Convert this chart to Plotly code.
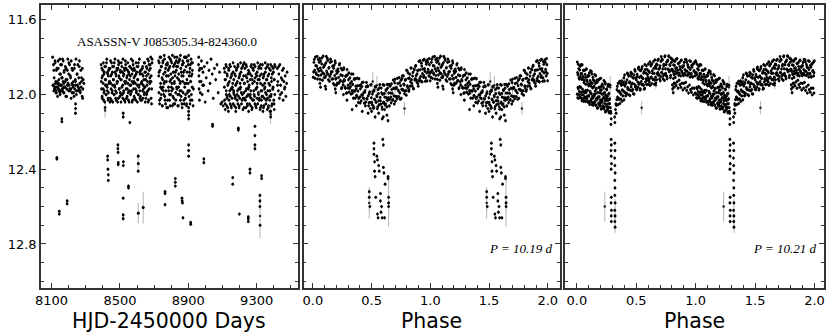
import plotly.graph_objects as go

# ---- light curve (HJD-2450000, V mag) ----
season_a = [
    (8106, 11.80), (8110, 11.95), (8113, 11.87), (8117, 11.97), (8121, 11.83), (8124, 11.93),
    (8128, 11.99), (8131, 11.86), (8135, 11.96), (8138, 11.82), (8141, 11.94), (8144, 11.98),
    (8147, 11.89), (8150, 12.00), (8152, 11.84), (8155, 11.95), (8158, 11.91), (8161, 11.97),
    (8164, 11.81), (8167, 11.93), (8170, 11.99), (8173, 11.88), (8177, 11.96), (8180, 11.85),
    (8184, 11.92), (8188, 12.01), (8192, 11.87), (8196, 11.94), (8201, 11.83), (8205, 11.97),
    (8210, 11.90), (8214, 12.02), (8219, 11.86), (8224, 11.95), (8229, 11.99), (8234, 11.84),
    (8240, 11.93), (8245, 12.00), (8250, 11.89), (8256, 11.96), (8262, 11.85), (8268, 11.98),
    (8275, 11.91), (8282, 12.02), (8289, 11.94),
    (8119, 11.96), (8126, 11.98), (8133, 11.94), (8140, 11.97), (8149, 11.99), (8157, 11.95),
    (8163, 11.98), (8171, 11.96),
]
season_a2 = [
    (8108, 11.95), (8111, 11.84), (8113, 11.98), (8115, 11.91), (8119, 11.97), (8120, 11.82), (8123, 11.94), (8125, 11.99),
    (8128, 11.87), (8131, 11.96), (8133, 11.93), (8135, 12.01), (8139, 11.86), (8140, 11.97), (8143, 11.92), (8145, 11.95),
    (8148, 11.81), (8151, 11.98), (8153, 11.89), (8155, 11.95), (8159, 11.84), (8160, 11.98), (8163, 11.91), (8165, 11.97),
    (8168, 11.82), (8171, 11.94), (8173, 11.99), (8175, 11.87), (8179, 11.96), (8180, 11.93), (8183, 12.01), (8185, 11.86),
    (8188, 11.97), (8191, 11.92), (8193, 11.95), (8195, 11.81), (8199, 11.98), (8200, 11.89), (8203, 11.95), (8205, 11.84),
    (8208, 11.98), (8211, 11.91), (8213, 11.97), (8215, 11.82), (8219, 11.94), (8220, 11.99), (8223, 11.87), (8225, 11.96),
    (8228, 11.93), (8231, 12.01), (8233, 11.86), (8235, 11.97), (8239, 11.92), (8240, 11.95), (8243, 11.81), (8245, 11.98),
    (8248, 11.89), (8251, 11.95), (8253, 11.84), (8255, 11.98), (8259, 11.91), (8260, 11.97), (8263, 11.82), (8265, 11.94),
    (8268, 11.99), (8271, 11.87), (8273, 11.96), (8275, 11.93), (8279, 12.01), (8280, 11.86), (8283, 11.97), (8285, 11.92),
]
season_b = [
    (8390, 11.84), (8392, 11.97), (8395, 11.91), (8396, 12.01), (8400, 11.87), (8402, 11.94),
    (8405, 12.03), (8407, 11.89), (8408, 11.98), (8411, 11.85), (8415, 11.95), (8417, 11.92),
    (8420, 12.00), (8421, 11.83), (8425, 11.96), (8427, 11.88), (8430, 12.02), (8432, 11.90),
    (8433, 11.99), (8436, 11.86), (8440, 11.93), (8442, 12.04), (8445, 11.82), (8446, 11.94),
    (8450, 12.03), (8452, 11.89), (8455, 11.98), (8457, 11.85), (8458, 11.95), (8461, 11.92),
    (8465, 12.00), (8467, 11.83), (8470, 11.96), (8471, 11.88), (8475, 12.02), (8477, 11.90),
    (8480, 11.99), (8482, 11.86), (8483, 11.93), (8486, 12.04), (8490, 11.82), (8492, 11.84),
    (8495, 11.97), (8496, 11.91), (8500, 12.01), (8502, 11.87), (8505, 11.92), (8507, 12.00),
    (8508, 11.83), (8511, 11.96), (8515, 11.88), (8517, 12.02), (8520, 11.90), (8521, 11.99),
    (8525, 11.86), (8527, 11.93), (8530, 12.04), (8532, 11.82), (8533, 11.84), (8536, 11.97),
    (8540, 11.91), (8542, 12.01), (8545, 11.87), (8546, 11.94), (8550, 12.03), (8552, 11.89),
    (8555, 11.98), (8557, 11.85), (8558, 11.95), (8561, 11.90), (8565, 11.99), (8567, 11.86),
    (8570, 11.93), (8571, 12.04), (8575, 11.82), (8577, 11.84), (8580, 11.97), (8582, 11.91),
    (8583, 12.01), (8586, 11.87), (8590, 11.94), (8592, 12.03), (8595, 11.89), (8596, 11.98),
    (8600, 11.85), (8602, 11.95), (8605, 11.92), (8607, 12.00), (8608, 11.83), (8611, 11.96),
    (8615, 11.88), (8617, 12.02), (8620, 12.01), (8621, 11.87), (8625, 11.94), (8627, 12.03),
    (8630, 11.89), (8632, 11.98), (8633, 11.85), (8636, 11.95), (8640, 11.92), (8642, 12.00),
    (8645, 11.83), (8646, 11.96), (8650, 11.88), (8652, 12.02), (8655, 11.90), (8657, 11.99),
    (8658, 11.86), (8661, 11.93), (8665, 12.04), (8667, 11.82), (8670, 11.84), (8671, 11.97),
    (8675, 11.91), (8677, 11.84), (8680, 11.80), (8682, 11.93), (8685, 12.05), (8688, 11.81),
]
season_b2 = [
    (8391, 11.93), (8394, 11.86), (8396, 12.02), (8398, 11.90), (8402, 11.97), (8403, 11.83), (8406, 11.99), (8408, 11.88),
    (8411, 12.04), (8414, 11.92), (8416, 11.85), (8418, 12.00), (8422, 11.95), (8423, 11.81), (8426, 11.98), (8428, 11.89),
    (8431, 12.03), (8434, 11.87), (8436, 11.94), (8438, 11.93), (8442, 11.86), (8443, 12.02), (8446, 11.90), (8448, 11.97),
    (8451, 11.83), (8454, 11.99), (8456, 11.88), (8458, 12.04), (8462, 11.92), (8463, 11.85), (8466, 12.00), (8468, 11.95),
    (8471, 11.81), (8474, 11.98), (8476, 11.89), (8478, 12.03), (8482, 11.87), (8483, 11.94), (8486, 11.93), (8488, 11.86),
    (8491, 12.02), (8494, 11.90), (8496, 11.97), (8498, 11.83), (8502, 11.99), (8503, 11.88), (8506, 12.04), (8508, 11.92),
    (8511, 11.85), (8514, 12.00), (8516, 11.95), (8518, 11.81), (8522, 11.98), (8523, 11.89), (8526, 12.03), (8528, 11.87),
    (8531, 11.94), (8534, 11.93), (8536, 11.86), (8538, 12.02), (8542, 11.90), (8543, 11.97), (8546, 11.83), (8548, 11.99),
    (8551, 11.88), (8554, 12.04), (8556, 11.92), (8558, 11.85), (8562, 12.00), (8563, 11.95), (8566, 11.81), (8568, 11.98),
    (8571, 11.89), (8574, 12.03), (8576, 11.87), (8578, 11.94), (8582, 11.93), (8583, 11.86), (8586, 12.02), (8588, 11.90),
    (8591, 11.97), (8594, 11.83), (8596, 11.99), (8598, 11.88), (8602, 12.04), (8603, 11.92), (8606, 11.85), (8608, 12.00),
    (8611, 11.95), (8614, 11.81), (8616, 11.98), (8618, 11.89), (8622, 12.03), (8623, 11.87), (8626, 11.94), (8628, 11.93),
    (8631, 11.86), (8634, 12.02), (8636, 11.90), (8638, 11.97), (8642, 11.83), (8643, 11.99), (8646, 11.88), (8648, 12.04),
    (8651, 11.92), (8654, 11.85), (8656, 12.00), (8658, 11.95), (8662, 11.81), (8663, 11.98), (8666, 11.89), (8668, 12.03),
    (8671, 11.87), (8674, 11.94), (8676, 11.93), (8678, 11.86), (8682, 12.02), (8683, 11.90), (8686, 11.97), (8688, 11.83),
]
season_c = [
    (8726, 11.82), (8728, 11.99), (8729, 11.88), (8732, 12.05), (8734, 11.80), (8738, 11.94),
    (8739, 12.02), (8741, 11.85), (8744, 11.97), (8746, 11.91), (8749, 12.06), (8751, 11.83),
    (8752, 11.96), (8755, 11.89), (8757, 12.00), (8761, 11.81), (8762, 11.93), (8764, 12.03),
    (8767, 11.86), (8769, 11.98), (8772, 11.90), (8774, 12.07), (8775, 11.84), (8778, 11.84),
    (8780, 12.07), (8784, 11.90), (8785, 11.98), (8787, 11.86), (8790, 12.03), (8792, 11.93),
    (8795, 11.81), (8797, 12.00), (8798, 11.89), (8801, 11.96), (8803, 11.83), (8807, 12.06),
    (8808, 11.91), (8810, 11.97), (8813, 11.85), (8815, 12.02), (8818, 11.94), (8820, 11.80),
    (8821, 12.05), (8824, 11.88), (8826, 11.99), (8830, 11.82), (8831, 11.85), (8833, 11.97),
    (8836, 11.91), (8838, 12.06), (8841, 11.83), (8843, 11.96), (8844, 11.89), (8847, 12.00),
    (8849, 11.81), (8853, 11.93), (8854, 12.03), (8856, 11.86), (8859, 11.98), (8861, 11.90),
    (8864, 12.07), (8866, 11.84), (8867, 11.82), (8870, 11.99), (8872, 11.88), (8876, 12.05),
    (8877, 11.80), (8879, 11.94), (8882, 12.02), (8884, 12.02), (8887, 11.94), (8889, 11.80),
    (8890, 12.05), (8893, 11.88), (8895, 11.99), (8899, 11.82), (8900, 11.84), (8902, 12.07),
    (8905, 11.90), (8907, 11.98), (8910, 11.86), (8912, 12.03), (8913, 11.93), (8916, 11.81),
    (8918, 12.00), (8922, 11.89), (8923, 11.96), (8925, 11.83), (8928, 12.06), (8930, 11.97),
]
season_c2 = [
    (8727, 11.90), (8730, 11.83), (8732, 12.03), (8734, 11.87), (8738, 11.96), (8739, 11.80), (8742, 12.00), (8744, 11.85),
    (8747, 12.06), (8750, 11.92), (8752, 11.82), (8754, 11.98), (8758, 11.94), (8759, 11.79), (8762, 12.01), (8764, 11.88),
    (8767, 12.05), (8770, 11.84), (8772, 11.93), (8774, 11.90), (8778, 11.83), (8779, 12.03), (8782, 11.87), (8784, 11.96),
    (8787, 11.80), (8790, 12.00), (8792, 11.85), (8794, 12.06), (8798, 11.92), (8799, 11.82), (8802, 11.98), (8804, 11.94),
    (8807, 11.79), (8810, 12.01), (8812, 11.88), (8814, 12.05), (8818, 11.84), (8819, 11.93), (8822, 11.90), (8824, 11.83),
    (8827, 12.03), (8830, 11.87), (8832, 11.96), (8834, 11.80), (8838, 12.00), (8839, 11.85), (8842, 12.06), (8844, 11.92),
    (8847, 11.82), (8850, 11.98), (8852, 11.94), (8854, 11.79), (8858, 12.01), (8859, 11.88), (8862, 12.05), (8864, 11.84),
    (8867, 11.93), (8870, 11.90), (8872, 11.83), (8874, 12.03), (8878, 11.87), (8879, 11.96), (8882, 11.80), (8884, 12.00),
    (8887, 11.85), (8890, 12.06), (8892, 11.92), (8894, 11.82), (8898, 11.98), (8899, 11.94), (8902, 11.79), (8904, 12.01),
    (8907, 11.88), (8910, 12.05), (8912, 11.84), (8914, 11.93), (8918, 11.90), (8919, 11.83), (8922, 12.03), (8924, 11.87),
]
season_d = [
    (8960, 11.84), (8962, 11.90), (8963, 11.97), (8965, 12.03), (8968, 11.86), (8975, 11.93),
    (8977, 11.82), (8981, 12.00), (8986, 11.88), (8990, 11.95), (8994, 11.85), (8999, 12.04),
    (9005, 11.91), (9010, 11.83), (9016, 11.98), (9021, 11.87), (9027, 11.94), (9033, 11.81),
    (9040, 11.89), (9046, 12.02), (9053, 11.86), (9060, 11.92), (9068, 11.84), (9075, 11.99),
    (9083, 11.88), (9090, 12.05), (9098, 12.04), (9104, 12.06),
    (8961, 11.80), (8964, 11.87), (8966, 11.93), (8970, 11.99), (8979, 11.86), (8984, 11.95),
]
season_e = [
    (9110, 11.86), (9112, 12.03), (9115, 11.92), (9116, 12.08), (9120, 11.84), (9122, 11.98),
    (9125, 12.06), (9127, 11.89), (9128, 12.01), (9131, 11.95), (9135, 12.09), (9137, 11.87),
    (9140, 12.00), (9141, 11.93), (9145, 12.05), (9147, 11.85), (9150, 11.97), (9152, 12.07),
    (9153, 11.90), (9156, 12.02), (9160, 11.94), (9162, 11.83), (9165, 11.99), (9166, 11.98),
    (9170, 12.06), (9172, 11.89), (9175, 12.01), (9177, 11.95), (9178, 12.09), (9181, 11.87),
    (9185, 12.00), (9187, 11.93), (9190, 12.05), (9191, 11.85), (9195, 11.97), (9197, 12.07),
    (9200, 11.90), (9202, 12.02), (9203, 11.94), (9206, 11.83), (9210, 11.99), (9212, 11.86),
    (9215, 12.03), (9216, 11.92), (9220, 12.08), (9222, 11.84), (9225, 11.99), (9227, 11.83),
    (9228, 11.94), (9231, 12.02), (9235, 11.90), (9237, 12.07), (9240, 11.97), (9241, 11.85),
    (9245, 12.05), (9247, 11.93), (9250, 12.00), (9252, 11.87), (9253, 12.09), (9256, 11.95),
    (9260, 12.01), (9262, 11.89), (9265, 12.06), (9266, 11.98), (9270, 11.84), (9272, 12.08),
    (9275, 11.92), (9277, 12.03), (9278, 11.86), (9281, 11.87), (9285, 12.00), (9287, 11.93),
    (9290, 12.05), (9291, 11.85), (9295, 11.97), (9297, 12.07), (9300, 11.90), (9302, 12.02),
    (9303, 11.94), (9306, 11.83), (9310, 11.99), (9312, 11.86), (9315, 12.03), (9316, 11.92),
    (9320, 12.08), (9322, 11.84), (9325, 11.98), (9327, 12.06), (9328, 11.89), (9331, 12.01),
    (9335, 11.95), (9337, 12.09), (9340, 12.07), (9341, 11.90), (9345, 12.02), (9347, 11.94),
    (9350, 11.83), (9352, 11.99), (9353, 11.86), (9356, 12.03), (9360, 11.92), (9362, 12.08),
    (9365, 11.84), (9366, 11.98), (9370, 12.06), (9372, 11.89), (9375, 12.01), (9377, 11.95),
    (9378, 12.09), (9381, 11.87), (9385, 12.00), (9387, 11.93), (9390, 12.05), (9391, 11.85),
    (9395, 11.97), (9397, 11.86), (9400, 12.03), (9402, 11.92), (9403, 12.08), (9406, 11.84),
]
season_e2 = [
    (9111, 11.96), (9114, 11.88), (9116, 12.05), (9118, 11.92), (9122, 12.00), (9123, 11.85), (9126, 12.02), (9128, 11.90),
    (9131, 12.07), (9134, 11.94), (9136, 11.86), (9138, 12.03), (9142, 11.98), (9143, 11.84), (9146, 12.01), (9148, 11.91),
    (9151, 12.06), (9154, 11.89), (9156, 11.97), (9158, 11.96), (9162, 11.88), (9163, 12.05), (9166, 11.92), (9168, 12.00),
    (9171, 11.85), (9174, 12.02), (9176, 11.90), (9178, 12.07), (9182, 11.94), (9183, 11.86), (9186, 12.03), (9188, 11.98),
    (9191, 11.84), (9194, 12.01), (9196, 11.91), (9198, 12.06), (9202, 11.89), (9203, 11.97), (9206, 11.96), (9208, 11.88),
    (9211, 12.05), (9214, 11.92), (9216, 12.00), (9218, 11.85), (9222, 12.02), (9223, 11.90), (9226, 12.07), (9228, 11.94),
    (9231, 11.86), (9234, 12.03), (9236, 11.98), (9238, 11.84), (9242, 12.01), (9243, 11.91), (9246, 12.06), (9248, 11.89),
    (9251, 11.97), (9254, 11.96), (9256, 11.88), (9258, 12.05), (9262, 11.92), (9263, 12.00), (9266, 11.85), (9268, 12.02),
    (9271, 11.90), (9274, 12.07), (9276, 11.94), (9278, 11.86), (9282, 12.03), (9283, 11.98), (9286, 11.84), (9288, 12.01),
    (9291, 11.91), (9294, 12.06), (9296, 11.89), (9298, 11.97), (9302, 11.96), (9303, 11.88), (9306, 12.05), (9308, 11.92),
    (9311, 12.00), (9314, 11.85), (9316, 12.02), (9318, 11.90), (9322, 12.07), (9323, 11.94), (9326, 11.86), (9328, 12.03),
    (9331, 11.98), (9334, 11.84), (9336, 12.01), (9338, 11.91), (9342, 12.06), (9343, 11.89), (9346, 11.97), (9348, 11.96),
    (9351, 11.88), (9354, 12.05), (9356, 11.92), (9358, 12.00), (9362, 11.85), (9363, 12.02), (9366, 11.90), (9368, 12.07),
    (9371, 11.94), (9374, 11.86), (9376, 12.03), (9378, 11.98), (9382, 11.84), (9383, 12.01), (9386, 11.91), (9388, 12.06),
    (9391, 11.89), (9394, 11.97), (9396, 11.96), (9398, 11.88), (9402, 12.05), (9403, 11.92), (9406, 12.00), (9408, 11.85),
]
season_tail = [
    (9421, 11.86), (9424, 11.93), (9427, 11.98), (9430, 11.89), (9433, 12.02), (9436, 11.84),
    (9440, 11.95), (9444, 11.91), (9447, 11.99), (9451, 11.87), (9455, 12.03), (9459, 11.93),
    (9463, 11.97), (9467, 11.90), (9471, 12.01), (9475, 11.94), (9478, 11.88),
    (9422, 11.95), (9429, 11.85), (9438, 12.00), (9449, 11.92), (9457, 11.86), (9465, 11.96),
]
lc_faint = [
    (8131, 12.338), (8131, 12.345), (8145, 12.625), (8145, 12.64), (8160, 12.13), (8160, 12.145),
    (8191, 12.57), (8191, 12.585), (8240, 12.05), (8240, 12.075), (8240, 12.10), (8413, 12.07),
    (8428, 12.33), (8428, 12.35), (8430, 12.40), (8432, 12.43), (8432, 12.46), (8488, 12.27),
    (8488, 12.29), (8489, 12.31), (8490, 12.365), (8490, 12.375), (8519, 12.10), (8519, 12.12),
    (8520, 12.36), (8520, 12.38), (8519, 12.555), (8519, 12.645), (8519, 12.665), (8550, 12.49),
    (8550, 12.50), (8558, 12.15), (8607, 12.33), (8607, 12.37), (8607, 12.41), (8607, 12.635),
    (8636, 12.605), (8764, 12.52), (8764, 12.53), (8764, 12.59), (8824, 12.45), (8824, 12.47),
    (8824, 12.49), (8863, 12.555), (8864, 12.57), (8866, 12.58), (8869, 12.66), (8902, 12.27),
    (8902, 12.30), (8902, 12.33), (8902, 12.09), (8902, 12.11), (8902, 12.13), (8914, 12.685),
    (8914, 12.695), (8991, 12.345), (8991, 12.365), (9042, 12.16), (9042, 12.17), (9160, 12.445),
    (9160, 12.48), (9193, 12.18), (9193, 12.19), (9199, 12.64), (9251, 12.655), (9251, 12.665),
    (9251, 12.68), (9261, 12.40), (9261, 12.42), (9290, 12.17), (9290, 12.22), (9290, 12.27),
    (9290, 12.29), (9319, 12.54), (9319, 12.57), (9319, 12.60), (9320, 12.70), (9329, 12.435),
    (9329, 12.45), (9382, 12.09), (9382, 12.12),
]
lc_errbars = [
    (8413, 12.085, 0.04), (8607, 12.37, 0.05), (8607, 12.635, 0.055), (8636, 12.605, 0.085),
    (9320, 12.65, 0.12), (9382, 12.105, 0.05),
]

# ---- folded, P = 10.19 d (phase 0-1, drawn twice) ----
fold1_band = [
    (0.003, 11.907), (0.009, 11.827), (0.015, 11.870), (0.021, 11.799), (0.027, 11.884), (0.033, 11.847),
    (0.039, 11.917), (0.045, 11.813), (0.051, 11.874), (0.057, 11.806), (0.063, 11.858), (0.069, 11.895),
    (0.075, 11.836), (0.081, 11.923), (0.087, 11.794), (0.093, 11.889), (0.099, 11.844), (0.105, 11.908),
    (0.111, 11.830), (0.117, 11.874), (0.123, 11.806), (0.129, 11.892), (0.135, 11.858), (0.141, 11.929),
    (0.147, 11.827), (0.153, 11.890), (0.159, 11.823), (0.165, 11.877), (0.171, 11.916), (0.177, 11.859),
    (0.183, 11.948), (0.189, 11.820), (0.195, 11.917), (0.201, 11.873), (0.207, 11.939), (0.213, 11.863),
    (0.219, 11.908), (0.225, 11.841), (0.231, 11.929), (0.237, 11.895), (0.243, 11.968), (0.249, 11.868),
    (0.255, 11.931), (0.261, 11.865), (0.267, 11.920), (0.273, 11.959), (0.279, 11.903), (0.285, 11.993),
    (0.291, 11.866), (0.297, 11.965), (0.303, 11.921), (0.309, 11.987), (0.315, 11.911), (0.321, 11.957),
    (0.327, 11.890), (0.333, 11.979), (0.339, 11.946), (0.345, 12.019), (0.351, 11.918), (0.357, 11.982),
    (0.363, 11.916), (0.369, 11.970), (0.375, 12.009), (0.381, 11.953), (0.387, 12.042), (0.393, 11.915),
    (0.399, 12.013), (0.405, 11.969), (0.411, 12.034), (0.417, 11.957), (0.423, 12.002), (0.429, 11.934),
    (0.435, 12.022), (0.441, 11.988), (0.447, 12.060), (0.453, 11.959), (0.459, 12.021), (0.465, 11.953),
    (0.471, 12.007), (0.477, 12.044), (0.483, 11.986), (0.489, 12.075), (0.495, 11.946), (0.501, 12.042),
    (0.507, 11.997), (0.513, 12.060), (0.519, 11.982), (0.525, 12.025), (0.531, 11.956), (0.537, 12.041),
    (0.543, 12.006), (0.549, 12.076), (0.555, 11.973), (0.561, 12.033), (0.567, 11.964), (0.573, 12.015),
    (0.579, 12.051), (0.585, 11.991), (0.591, 12.078), (0.597, 11.947), (0.603, 12.041), (0.609, 11.994),
    (0.615, 12.056), (0.621, 11.975), (0.627, 12.017), (0.633, 11.946), (0.639, 12.030), (0.645, 11.992),
    (0.651, 12.061), (0.657, 11.955), (0.663, 12.014), (0.669, 11.943), (0.675, 11.993), (0.681, 12.027),
    (0.687, 11.966), (0.693, 12.051), (0.699, 11.918), (0.705, 12.011), (0.711, 11.962), (0.717, 12.023),
    (0.723, 11.941), (0.729, 11.981), (0.735, 11.909), (0.741, 11.991), (0.747, 11.952), (0.753, 12.020),
    (0.759, 11.914), (0.765, 11.972), (0.771, 11.900), (0.777, 11.949), (0.783, 11.981), (0.789, 11.919),
    (0.795, 12.003), (0.801, 11.870), (0.807, 11.962), (0.813, 11.913), (0.819, 11.973), (0.825, 11.891),
    (0.831, 11.931), (0.837, 11.858), (0.843, 11.940), (0.849, 11.901), (0.855, 11.969), (0.861, 11.863),
    (0.867, 11.922), (0.873, 11.850), (0.879, 11.899), (0.885, 11.933), (0.891, 11.871), (0.897, 11.955),
    (0.903, 11.822), (0.909, 11.915), (0.915, 11.867), (0.921, 11.928), (0.927, 11.847), (0.933, 11.888),
    (0.939, 11.816), (0.945, 11.899), (0.951, 11.861), (0.957, 11.929), (0.963, 11.824), (0.969, 11.884),
    (0.975, 11.814), (0.981, 11.865), (0.987, 11.900), (0.993, 11.840), (0.999, 11.926),
]
fold1_band2 = [
    (0.006, 11.879), (0.012, 11.811), (0.018, 11.913), (0.024, 11.845), (0.030, 11.891), (0.036, 11.796),
    (0.042, 11.862), (0.048, 11.898), (0.054, 11.827), (0.060, 11.918), (0.066, 11.819), (0.072, 11.872),
    (0.078, 11.803), (0.084, 11.884), (0.090, 11.854), (0.096, 11.909), (0.102, 11.840), (0.108, 11.901),
    (0.114, 11.796), (0.120, 11.884), (0.126, 11.817), (0.132, 11.921), (0.138, 11.855), (0.144, 11.903),
    (0.150, 11.810), (0.156, 11.878), (0.162, 11.917), (0.168, 11.848), (0.174, 11.941), (0.180, 11.844),
    (0.186, 11.898), (0.192, 11.831), (0.198, 11.913), (0.204, 11.886), (0.210, 11.942), (0.216, 11.876),
    (0.222, 11.938), (0.228, 11.834), (0.234, 11.924), (0.240, 11.859), (0.246, 11.963), (0.252, 11.899),
    (0.258, 11.948), (0.264, 11.857), (0.270, 11.926), (0.276, 11.966), (0.282, 11.898), (0.288, 11.991),
    (0.294, 11.895), (0.300, 11.950), (0.306, 11.884), (0.312, 11.967), (0.318, 11.940), (0.324, 11.997),
    (0.330, 11.931), (0.336, 11.993), (0.342, 11.890), (0.348, 11.980), (0.354, 11.915), (0.360, 12.019),
    (0.366, 11.955), (0.372, 12.004), (0.378, 11.912), (0.384, 11.981), (0.390, 12.021), (0.396, 11.952),
    (0.402, 12.045), (0.408, 11.948), (0.414, 12.002), (0.420, 11.935), (0.426, 12.017), (0.432, 11.990),
    (0.438, 12.046), (0.444, 11.979), (0.450, 12.040), (0.456, 11.935), (0.462, 12.024), (0.468, 11.957),
    (0.474, 12.060), (0.480, 11.995), (0.486, 12.042), (0.492, 11.949), (0.498, 12.017), (0.504, 12.054),
    (0.510, 11.984), (0.516, 12.074), (0.522, 11.976), (0.528, 12.028), (0.534, 11.960), (0.540, 12.040),
    (0.546, 12.011), (0.552, 12.065), (0.558, 11.995), (0.564, 12.054), (0.570, 11.947), (0.576, 12.034),
    (0.582, 11.965), (0.588, 12.067), (0.594, 11.999), (0.600, 12.045), (0.606, 11.950), (0.612, 12.014),
    (0.618, 12.050), (0.624, 11.978), (0.630, 12.066), (0.636, 11.966), (0.642, 12.017), (0.648, 11.946),
    (0.654, 12.025), (0.660, 11.992), (0.666, 12.044), (0.672, 11.973), (0.678, 12.030), (0.684, 11.922),
    (0.690, 12.007), (0.696, 11.936), (0.702, 12.036), (0.708, 11.966), (0.714, 12.010), (0.720, 11.913),
    (0.726, 11.976), (0.732, 12.011), (0.738, 11.937), (0.744, 12.025), (0.750, 11.923), (0.756, 11.972),
    (0.762, 11.900), (0.768, 11.977), (0.774, 11.944), (0.780, 11.995), (0.786, 11.923), (0.792, 11.979),
    (0.798, 11.870), (0.804, 11.954), (0.810, 11.883), (0.816, 11.982), (0.822, 11.912), (0.828, 11.955),
    (0.834, 11.858), (0.840, 11.921), (0.846, 11.955), (0.852, 11.881), (0.858, 11.968), (0.864, 11.867),
    (0.870, 11.916), (0.876, 11.844), (0.882, 11.922), (0.888, 11.889), (0.894, 11.941), (0.900, 11.869),
    (0.906, 11.926), (0.912, 11.818), (0.918, 11.903), (0.924, 11.832), (0.930, 11.932), (0.936, 11.863),
    (0.942, 11.907), (0.948, 11.811), (0.954, 11.875), (0.960, 11.911), (0.966, 11.838), (0.972, 11.927),
    (0.978, 11.827), (0.984, 11.877), (0.990, 11.807), (0.996, 11.886),
]
fold1_extra = [
    (0.060, 11.94), (0.065, 11.96), (0.105, 11.955), (0.110, 11.97), (0.190, 11.97), (0.195, 11.99),
    (0.200, 11.95), (0.260, 12.00), (0.290, 12.03), (0.334, 12.08), (0.370, 12.06), (0.420, 12.09),
    (0.470, 12.10), (0.500, 12.09), (0.520, 12.07), (0.530, 12.12), (0.560, 12.10), (0.590, 12.13),
    (0.600, 12.12), (0.610, 12.08), (0.630, 12.11), (0.640, 12.14),
]
fold1_eclipse = [
    (0.480, 12.52), (0.480, 12.55), (0.485, 12.60), (0.520, 12.26), (0.520, 12.29), (0.520, 12.32),
    (0.525, 12.36), (0.525, 12.41), (0.530, 12.44), (0.535, 12.55), (0.545, 12.33), (0.550, 12.35),
    (0.550, 12.64), (0.555, 12.66), (0.560, 12.38), (0.565, 12.41), (0.575, 12.53), (0.575, 12.57),
    (0.580, 12.63), (0.585, 12.60), (0.590, 12.66), (0.595, 12.24), (0.600, 12.27), (0.600, 12.39),
    (0.605, 12.42), (0.610, 12.66), (0.615, 12.48), (0.640, 12.44), (0.640, 12.45), (0.645, 12.55),
    (0.645, 12.58), (0.645, 12.60),
]
fold1_errbars = [
    (0.480, 12.58, 0.085), (0.645, 12.58, 0.13), (0.510, 11.93, 0.05), (0.545, 11.95, 0.05),
    (0.700, 11.97, 0.035), (0.780, 12.075, 0.035), (0.880, 11.92, 0.02), (0.630, 12.03, 0.04),
]

# ---- folded, P = 10.21 d ----
fold2_upper = [
    (0.003, 11.826), (0.009, 11.894), (0.015, 11.862), (0.021, 11.917), (0.027, 11.848), (0.033, 11.888),
    (0.039, 11.918), (0.045, 11.841), (0.051, 11.904), (0.057, 11.871), (0.063, 11.924), (0.069, 11.892),
    (0.075, 11.945), (0.081, 11.863), (0.087, 11.930), (0.093, 11.898), (0.099, 11.953), (0.105, 11.884),
    (0.111, 11.925), (0.117, 11.954), (0.123, 11.877), (0.129, 11.940), (0.135, 11.908), (0.141, 11.960),
    (0.147, 11.928), (0.153, 11.981), (0.159, 11.899), (0.165, 11.967), (0.171, 11.934), (0.177, 11.989),
    (0.183, 11.920), (0.189, 11.961), (0.195, 11.990), (0.201, 11.913), (0.207, 11.976), (0.213, 11.944),
    (0.219, 11.997), (0.225, 11.964), (0.231, 12.017), (0.237, 11.935), (0.243, 12.003), (0.249, 11.971),
    (0.255, 12.025), (0.261, 11.956), (0.267, 11.997), (0.273, 12.027), (0.279, 11.950),
    (0.006, 11.883), (0.012, 11.838), (0.018, 11.911), (0.024, 11.868), (0.030, 11.903), (0.036, 11.840),
    (0.042, 11.888), (0.048, 11.917), (0.054, 11.870), (0.060, 11.936), (0.066, 11.870), (0.072, 11.908),
    (0.078, 11.863), (0.084, 11.922), (0.090, 11.904), (0.096, 11.945), (0.102, 11.899), (0.108, 11.943),
    (0.114, 11.872), (0.120, 11.936), (0.126, 11.890), (0.132, 11.964), (0.138, 11.921), (0.144, 11.956),
    (0.150, 11.893), (0.156, 11.941), (0.162, 11.970), (0.168, 11.923), (0.174, 11.989), (0.180, 11.923),
    (0.186, 11.961), (0.192, 11.916), (0.198, 11.975), (0.204, 11.957), (0.210, 11.997), (0.216, 11.952),
    (0.222, 11.996), (0.228, 11.925), (0.234, 11.989), (0.240, 11.943), (0.246, 12.017), (0.252, 11.974),
    (0.258, 12.009), (0.264, 11.945), (0.270, 11.994), (0.276, 12.023),
]
fold2_lower = [
    (0.006, 12.017), (0.012, 11.969), (0.018, 12.000), (0.024, 11.957), (0.030, 12.016), (0.036, 11.988),
    (0.042, 12.033), (0.048, 11.972), (0.054, 12.003), (0.060, 12.021), (0.066, 11.990), (0.072, 12.037),
    (0.078, 11.989), (0.084, 12.021), (0.090, 11.977), (0.096, 12.036), (0.102, 12.008), (0.108, 12.053),
    (0.114, 11.992), (0.120, 12.023), (0.126, 12.041), (0.132, 12.010), (0.138, 12.057), (0.144, 12.009),
    (0.150, 12.041), (0.156, 11.997), (0.162, 12.056), (0.168, 12.028), (0.174, 12.073), (0.180, 12.012),
    (0.186, 12.044), (0.192, 12.061), (0.198, 12.030), (0.204, 12.077), (0.210, 12.029), (0.216, 12.061),
    (0.222, 12.017), (0.228, 12.076), (0.234, 12.048), (0.240, 12.093), (0.246, 12.032), (0.252, 12.064),
    (0.258, 12.081), (0.264, 12.050), (0.270, 12.097), (0.276, 12.049),
    (0.003, 11.998), (0.009, 11.962), (0.015, 12.020), (0.021, 11.984), (0.027, 12.012), (0.033, 11.962),
    (0.039, 12.000), (0.045, 12.023), (0.051, 11.986), (0.057, 12.036), (0.063, 11.984), (0.069, 12.014),
    (0.075, 11.978), (0.081, 12.024), (0.087, 12.009), (0.093, 12.041), (0.099, 12.005), (0.105, 12.039),
    (0.111, 11.983), (0.117, 12.033), (0.123, 11.996), (0.129, 12.054), (0.135, 12.019), (0.141, 12.047),
    (0.147, 11.997), (0.153, 12.035), (0.159, 12.057), (0.165, 12.020), (0.171, 12.071), (0.177, 12.019),
    (0.183, 12.049), (0.189, 12.012), (0.195, 12.058), (0.201, 12.044), (0.207, 12.076), (0.213, 12.040),
    (0.219, 12.074), (0.225, 12.017), (0.231, 12.067), (0.237, 12.031), (0.243, 12.089), (0.249, 12.054),
    (0.255, 12.082), (0.261, 12.031), (0.267, 12.069), (0.273, 12.092),
]
fold2_rise = [
    (0.332, 12.057), (0.337, 11.974), (0.342, 12.013), (0.347, 11.940), (0.352, 12.021), (0.357, 11.982),
    (0.362, 12.048), (0.367, 11.942), (0.372, 11.999), (0.377, 11.926), (0.382, 11.975), (0.387, 12.007),
    (0.392, 11.945), (0.397, 12.028), (0.402, 11.895), (0.407, 11.989), (0.412, 11.941), (0.417, 12.002),
    (0.422, 11.921), (0.427, 11.963), (0.432, 11.891), (0.437, 11.974), (0.442, 11.936), (0.447, 12.005),
    (0.452, 11.900), (0.457, 11.959), (0.462, 11.888), (0.467, 11.939), (0.472, 11.973), (0.477, 11.912),
    (0.482, 11.997), (0.487, 11.866), (0.492, 11.959), (0.497, 11.911), (0.502, 11.972), (0.507, 11.892),
    (0.512, 11.933), (0.517, 11.862), (0.522, 11.945), (0.527, 11.908), (0.532, 11.976), (0.537, 11.872),
    (0.542, 11.931), (0.547, 11.861), (0.552, 11.911), (0.557, 11.946), (0.562, 11.885), (0.567, 11.971),
    (0.572, 11.839), (0.577, 11.933), (0.582, 11.885), (0.587, 11.947), (0.592, 11.866), (0.597, 11.908),
    (0.602, 11.836), (0.607, 11.920), (0.612, 11.882), (0.617, 11.951), (0.622, 11.846), (0.627, 11.906),
    (0.632, 11.835), (0.637, 11.886), (0.642, 11.920), (0.647, 11.860), (0.652, 11.945), (0.657, 11.814),
    (0.662, 11.907), (0.667, 11.860), (0.672, 11.921), (0.677, 11.841), (0.682, 11.882), (0.687, 11.811),
    (0.692, 11.894), (0.697, 11.857), (0.702, 11.926), (0.707, 11.822), (0.712, 11.882), (0.717, 11.812),
    (0.722, 11.863), (0.727, 11.898), (0.732, 11.838), (0.737, 11.924), (0.742, 11.793), (0.747, 11.887),
    (0.752, 11.840), (0.757, 11.902), (0.762, 11.822), (0.767, 11.864), (0.772, 11.793), (0.777, 11.877),
    (0.782, 11.840), (0.787, 11.909), (0.792, 11.805), (0.797, 11.865),
    (0.335, 12.027), (0.340, 11.956), (0.345, 12.054), (0.350, 11.984), (0.355, 12.026), (0.360, 11.929),
    (0.365, 11.991), (0.370, 12.024), (0.375, 11.950), (0.380, 12.036), (0.385, 11.934), (0.390, 11.982),
    (0.395, 11.910), (0.400, 11.986), (0.405, 11.954), (0.410, 12.007), (0.415, 11.936), (0.420, 11.993),
    (0.425, 11.885), (0.430, 11.971), (0.435, 11.901), (0.440, 12.001), (0.445, 11.932), (0.450, 11.977),
    (0.455, 11.881), (0.460, 11.945), (0.465, 11.980), (0.470, 11.908), (0.475, 11.996), (0.480, 11.895),
    (0.485, 11.945), (0.490, 11.875), (0.495, 11.953), (0.500, 11.921), (0.505, 11.974), (0.510, 11.903),
    (0.515, 11.961), (0.520, 11.853), (0.525, 11.939), (0.530, 11.869), (0.535, 11.970), (0.540, 11.901),
    (0.545, 11.946), (0.550, 11.850), (0.555, 11.915), (0.560, 11.950), (0.565, 11.878), (0.570, 11.966),
    (0.575, 11.866), (0.580, 11.916), (0.585, 11.846), (0.590, 11.924), (0.595, 11.893), (0.600, 11.945),
    (0.605, 11.875), (0.610, 11.932), (0.615, 11.825), (0.620, 11.910), (0.625, 11.841), (0.630, 11.941),
    (0.635, 11.873), (0.640, 11.917), (0.645, 11.822), (0.650, 11.886), (0.655, 11.922), (0.660, 11.849),
    (0.665, 11.938), (0.670, 11.837), (0.675, 11.888), (0.680, 11.817), (0.685, 11.896), (0.690, 11.864),
    (0.695, 11.917), (0.700, 11.846), (0.705, 11.904), (0.710, 11.797), (0.715, 11.883), (0.720, 11.814),
    (0.725, 11.915), (0.730, 11.847), (0.735, 11.892), (0.740, 11.797), (0.745, 11.862), (0.750, 11.898),
    (0.755, 11.826), (0.760, 11.915), (0.765, 11.815), (0.770, 11.866), (0.775, 11.796), (0.780, 11.875),
    (0.785, 11.844), (0.790, 11.897), (0.795, 11.827),
]
fold2_top = [
    (0.801, 11.810), (0.807, 11.875), (0.813, 11.841), (0.819, 11.893), (0.825, 11.822), (0.831, 11.860),
    (0.837, 11.888), (0.843, 11.808), (0.849, 11.869), (0.855, 11.834), (0.861, 11.885), (0.867, 11.850),
    (0.873, 11.900), (0.879, 11.816), (0.885, 11.881), (0.891, 11.847), (0.897, 11.899), (0.903, 11.828),
    (0.909, 11.866), (0.915, 11.894), (0.921, 11.814), (0.927, 11.875), (0.933, 11.840), (0.939, 11.891),
    (0.945, 11.856), (0.951, 11.906), (0.957, 11.822), (0.963, 11.887), (0.969, 11.853), (0.975, 11.905),
    (0.981, 11.834), (0.987, 11.872), (0.993, 11.900), (0.999, 11.820),
    (0.804, 11.865), (0.810, 11.818), (0.816, 11.889), (0.822, 11.844), (0.828, 11.876), (0.834, 11.811),
    (0.840, 11.857), (0.846, 11.883), (0.852, 11.834), (0.858, 11.897), (0.864, 11.829), (0.870, 11.865),
    (0.876, 11.818), (0.882, 11.874), (0.888, 11.854), (0.894, 11.892), (0.900, 11.845), (0.906, 11.886),
    (0.912, 11.812), (0.918, 11.874), (0.924, 11.826), (0.930, 11.898), (0.936, 11.852), (0.942, 11.885),
    (0.948, 11.819), (0.954, 11.866), (0.960, 11.892), (0.966, 11.843), (0.972, 11.906), (0.978, 11.838),
    (0.984, 11.874), (0.990, 11.827), (0.996, 11.883),
]
fold2_diag = [
    (0.804, 11.948), (0.812, 11.914), (0.820, 11.939), (0.828, 11.908), (0.836, 11.952), (0.844, 11.932),
    (0.852, 11.966), (0.860, 11.923), (0.868, 11.947), (0.876, 11.961), (0.884, 11.939), (0.892, 11.975),
    (0.900, 11.940), (0.908, 11.965), (0.916, 11.935), (0.924, 11.978), (0.932, 11.959), (0.940, 11.992),
    (0.948, 11.949), (0.956, 11.974), (0.964, 11.987), (0.972, 11.966), (0.980, 12.001), (0.988, 11.966),
    (0.996, 11.992),
    (0.806, 11.97), (0.811, 11.99), (0.818, 11.96), (0.826, 11.94),
]
fold2_eclipse = [
    (0.282, 12.07), (0.284, 12.09), (0.286, 12.10), (0.289, 12.13), (0.287, 12.16), (0.288, 12.24),
    (0.290, 12.27), (0.287, 12.30), (0.289, 12.33), (0.291, 12.37), (0.288, 12.40), (0.290, 12.55),
    (0.288, 12.58), (0.291, 12.62), (0.289, 12.65), (0.290, 12.68),
    (0.318, 12.12), (0.320, 12.15), (0.319, 12.26), (0.321, 12.30), (0.318, 12.34), (0.320, 12.38),
    (0.322, 12.42), (0.319, 12.46), (0.321, 12.50), (0.320, 12.54), (0.322, 12.58), (0.319, 12.62),
    (0.321, 12.65), (0.320, 12.68), (0.322, 12.71), (0.325, 12.08), (0.328, 12.05), (0.330, 12.10),
]
fold2_errbars = [
    (0.235, 12.60, 0.08), (0.230, 11.99, 0.07), (0.280, 11.96, 0.06), (0.545, 12.07, 0.035),
    (0.665, 11.95, 0.02), (0.400, 11.93, 0.03), (0.322, 12.65, 0.09),
]

panel_titles = ["ASASSN-V J085305.34-824360.0", "P = 10.19 d", "P = 10.21 d"]
x_titles = ["HJD-2450000 Days", "Phase", "Phase"]
hjd_ticks = [8100, 8500, 8900, 9300]
mag_ticks = [11.6, 12.0, 12.4, 12.8]


def unzip(pairs, two_cycles=False):
    xs = [p[0] for p in pairs]
    ys = [p[1] for p in pairs]
    if two_cycles:
        xs = xs + [x + 1.0 for x in xs]
        ys = ys + ys
    return xs, ys


def err_trace(rows, axis, two_cycles=False):
    xs, ys = unzip(rows, two_cycles)
    errs = [r[2] for r in rows]
    if two_cycles:
        errs = errs + errs
    return go.Scatter(x=xs, y=ys, mode="markers", xaxis=axis[0], yaxis=axis[1],
                      marker=dict(size=2.5, color="#222"), showlegend=False, hoverinfo="skip",
                      error_y=dict(type="data", array=errs, color="#b5b5b5", thickness=1, width=0))


def dot_trace(pairs, axis, two_cycles=False):
    # each point gets a short dark error stick, like the survey photometry
    xs, ys = unzip(pairs, two_cycles)
    return go.Scatter(x=xs, y=ys, mode="markers", xaxis=axis[0], yaxis=axis[1],
                      marker=dict(size=2.8, color="black", line=dict(width=0)),
                      error_y=dict(type="constant", value=0.009, color="#444", thickness=1, width=0),
                      showlegend=False, hoverinfo="skip")


fig = go.Figure()
ax1, ax2, ax3 = ("x", "y"), ("x2", "y2"), ("x3", "y3")

fig.add_trace(err_trace(lc_errbars, ax1))
for s in (season_a, season_a2, season_b, season_b2, season_c, season_c2, season_d,
          season_e, season_e2, season_tail, lc_faint):
    fig.add_trace(dot_trace(s, ax1))

fig.add_trace(err_trace(fold1_errbars, ax2, True))
for s in (fold1_band, fold1_band2, fold1_extra, fold1_eclipse):
    fig.add_trace(dot_trace(s, ax2, True))

fig.add_trace(err_trace(fold2_errbars, ax3, True))
for s in (fold2_upper, fold2_lower, fold2_rise, fold2_top, fold2_diag, fold2_eclipse):
    fig.add_trace(dot_trace(s, ax3, True))

W, H = 830, 332
frame = "#333333"
tick_font = dict(family="DejaVu Sans", size=13, color="black")
title_font = dict(family="DejaVu Sans", size=20.5, color="black")

common = dict(showline=True, mirror="allticks", linecolor=frame, linewidth=1.5,
              ticks="inside", ticklen=5, tickwidth=1, tickcolor=frame, automargin=False,
              showgrid=False, zeroline=False, tickfont=tick_font)

x_domains = [(41 / W, 297.5 / W), (303.5 / W, 559.5 / W), (565 / W, 824 / W)]
y_domain = (1 - 288 / H, 1 - 5 / H)

fig.update_layout(
    width=W, height=H, margin=dict(l=0, r=0, t=0, b=0, autoexpand=False),
    plot_bgcolor="white", paper_bgcolor="white", showlegend=False,
    xaxis=dict(domain=x_domains[0], range=[8038, 9539], anchor="y",
               tickvals=hjd_ticks, minor=dict(ticks="inside", dtick=100, tick0=8100, ticklen=3, tickcolor=frame),
               **common),
    xaxis2=dict(domain=x_domains[1], range=[-0.08, 2.1], anchor="y2", dtick=0.5, tick0=0, tickformat=".1f",
                minor=dict(ticks="inside", dtick=0.1, ticklen=3, tickcolor=frame), **common),
    xaxis3=dict(domain=x_domains[2], range=[-0.1, 2.08], anchor="y3", dtick=0.5, tick0=0, tickformat=".1f",
                minor=dict(ticks="inside", dtick=0.1, ticklen=3, tickcolor=frame), **common),
)
for i, name in enumerate(["yaxis", "yaxis2", "yaxis3"]):
    fig.layout[name] = dict(domain=y_domain, range=[13.036, 11.52], anchor=["x", "x2", "x3"][i],
                            tickvals=mag_ticks, ticktext=["%.1f" % v for v in mag_ticks],
                            showticklabels=(i == 0),
                            minor=dict(ticks="inside", dtick=0.1, tick0=11.6, ticklen=3, tickcolor=frame),
                            **common)

# x-axis titles placed as annotations for exact vertical position
for ref, text in zip(["x domain", "x2 domain", "x3 domain"], x_titles):
    fig.add_annotation(text=text, xref=ref, yref="paper", x=0.5, y=1 - 320.5 / H, yanchor="middle",
                       showarrow=False, font=title_font)

fig.add_annotation(text=panel_titles[0], xref="x domain", yref="y domain", x=0.49, y=0.905,
                   showarrow=False, font=dict(family="Liberation Serif", size=13, color="black"))
fig.add_annotation(text="<i>" + panel_titles[1] + "</i>", xref="x2 domain", yref="y2 domain",
                   x=0.977, y=0.105, xanchor="right", showarrow=False,
                   font=dict(family="Liberation Serif", size=13, color="black"))
fig.add_annotation(text="<i>" + panel_titles[2] + "</i>", xref="x3 domain", yref="y3 domain",
                   x=0.977, y=0.105, xanchor="right", showarrow=False,
                   font=dict(family="Liberation Serif", size=13, color="black"))

# the default page has an 8px body margin; drop it so the figure sits at the window origin
fig.write_html("out.html", config={"displayModeBar": False},
               post_script="document.body.style.margin = '0';")
